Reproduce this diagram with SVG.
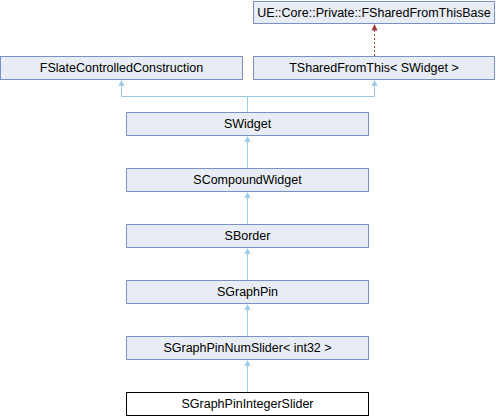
<svg xmlns="http://www.w3.org/2000/svg" width="496" height="416" viewBox="0 0 496 416">
<defs>
<style>
.n rect{fill:#e8ecf4;stroke:#7a91c6;stroke-width:1}
.n.cur rect{fill:#ffffff;stroke:#000000}
.n text{font-family:"Liberation Sans",Arial,sans-serif;font-size:12.5px;fill:#000;text-anchor:middle}
.e{stroke:#9ecbe6;stroke-width:1;fill:none}
.d{stroke:#a33a3a;stroke-width:1;fill:none;stroke-dasharray:2,2}
</style>
</defs>
<rect width="496" height="416" fill="#ffffff"/>
<g id="connectors">
<line class="d" x1="374.5" y1="56" x2="374.5" y2="30"/>
<path d="M371.5,30.5 L374.5,24 L377.5,30.5 Z" fill="#a33a3a"/>
<path class="e" d="M247.5,112 V96.5 H121.5 V81"/>
<path class="e" d="M247.5,96.5 H374.5 V81"/>
<path d="M118.5,86 L121.5,80 L124.5,86 Z" fill="#9ecbe6"/>
<path d="M371.5,86 L374.5,80 L377.5,86 Z" fill="#9ecbe6"/>
<line class="e" x1="247.5" y1="168" x2="247.5" y2="137"/>
<path d="M244.5,142 L247.5,136 L250.5,142 Z" fill="#9ecbe6"/>
<line class="e" x1="247.5" y1="224" x2="247.5" y2="193"/>
<path d="M244.5,198 L247.5,192 L250.5,198 Z" fill="#9ecbe6"/>
<line class="e" x1="247.5" y1="280" x2="247.5" y2="249"/>
<path d="M244.5,254 L247.5,248 L250.5,254 Z" fill="#9ecbe6"/>
<line class="e" x1="247.5" y1="336" x2="247.5" y2="305"/>
<path d="M244.5,310 L247.5,304 L250.5,310 Z" fill="#9ecbe6"/>
<line class="e" x1="247.5" y1="392" x2="247.5" y2="361"/>
<path d="M244.5,366 L247.5,360 L250.5,366 Z" fill="#9ecbe6"/>
</g>
<g id="n_base" class="n"><rect x="253.5" y="1.5" width="241" height="22"/><text x="374" y="16.5">UE::Core::Private::FSharedFromThisBase</text></g>
<g id="n_fslate" class="n"><rect x="0.5" y="56.5" width="242" height="23"/><text x="121.5" y="72">FSlateControlledConstruction</text></g>
<g id="n_tshared" class="n"><rect x="253.5" y="56.5" width="241" height="23"/><text x="374" y="72">TSharedFromThis&lt; SWidget &gt;</text></g>
<g id="n_swidget" class="n"><rect x="126.5" y="112.5" width="242" height="23"/><text x="247.5" y="128">SWidget</text></g>
<g id="n_scompound" class="n"><rect x="126.5" y="168.5" width="242" height="23"/><text x="247.5" y="184">SCompoundWidget</text></g>
<g id="n_sborder" class="n"><rect x="126.5" y="224.5" width="242" height="23"/><text x="247.5" y="240">SBorder</text></g>
<g id="n_sgraphpin" class="n"><rect x="126.5" y="280.5" width="242" height="23"/><text x="247.5" y="296">SGraphPin</text></g>
<g id="n_numslider" class="n"><rect x="126.5" y="336.5" width="242" height="23"/><text x="247.5" y="352">SGraphPinNumSlider&lt; int32 &gt;</text></g>
<g id="n_intslider" class="n cur"><rect x="126.5" y="392.5" width="242" height="23"/><text x="247.5" y="408">SGraphPinIntegerSlider</text></g>
</svg>
